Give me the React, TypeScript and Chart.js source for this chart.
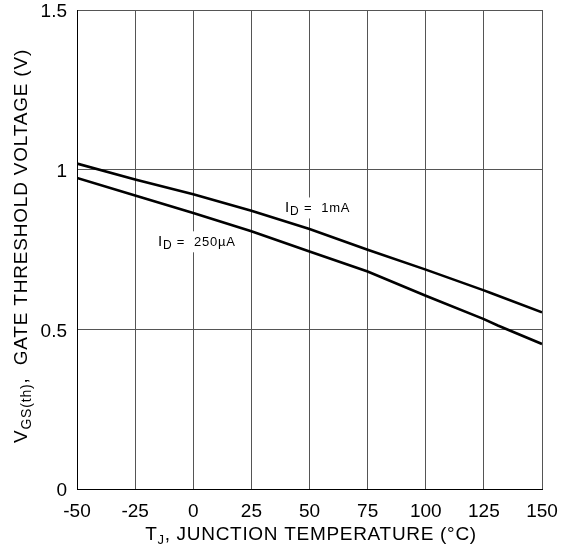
import React, { useEffect, useRef } from "react";
import { Chart, registerables } from "chart.js";

Chart.register(...registerables);

const tempsHigh = [-50, -25, 0, 25, 50, 75, 100, 125, 128, 150];
const vth1mA = [1.019, 0.969, 0.923, 0.871, 0.814, 0.749, 0.687, 0.622, 0.614, 0.553];
const tempsLow = [-50, -25, 0, 25, 50, 75, 100, 125, 131, 150];
const vth250uA = [0.974, 0.919, 0.864, 0.807, 0.744, 0.681, 0.605, 0.532, 0.512, 0.454];

const FONT = "'Liberation Sans', Arial, sans-serif";

type Seg = { t: string; size: number; dy?: number };

const xTitle: Seg[] = [
  { t: "T", size: 19 },
  { t: "J", size: 13, dy: 4 },
  { t: ", JUNCTION TEMPERATURE (°C)", size: 19 },
];
const yTitle: Seg[] = [
  { t: "V", size: 19 },
  { t: "GS(th)", size: 14, dy: 4 },
  { t: ",  GATE THRESHOLD VOLTAGE (V)", size: 19 },
];
const label1mA: Seg[] = [
  { t: "I", size: 15 },
  { t: "D", size: 12, dy: 3 },
  { t: " =  1mA", size: 13 },
];
const label250uA: Seg[] = [
  { t: "I", size: 15 },
  { t: "D", size: 12, dy: 3 },
  { t: " =  250µA", size: 13 },
];
// annotation anchors in data units [temperature, volts]
const anchor1mA = [39.5, 0.866];
const anchor250uA = [-15.2, 0.76];

function segWidth(ctx: CanvasRenderingContext2D, segs: Seg[]) {
  let w = 0;
  for (const s of segs) {
    ctx.font = `${s.size}px ${FONT}`;
    w += ctx.measureText(s.t).width;
  }
  return w;
}
function drawSegs(ctx: CanvasRenderingContext2D, segs: Seg[], x: number, y: number) {
  let cx = x;
  for (const s of segs) {
    ctx.font = `${s.size}px ${FONT}`;
    ctx.fillText(s.t, cx, y + (s.dy || 0));
    cx += ctx.measureText(s.t).width;
  }
}

const textPlugin = {
  id: "textPlugin",
  beforeDatasetsDraw(chart: any) {
    const ctx = chart.ctx as CanvasRenderingContext2D;
    const xs = chart.scales.x;
    const ys = chart.scales.y;
    ctx.save();
    (ctx as any).letterSpacing = "0.8px";
    ctx.textBaseline = "alphabetic";
    ctx.textAlign = "left";
    for (const [segs, a] of [
      [label1mA, anchor1mA],
      [label250uA, anchor250uA],
    ] as [Seg[], number[]][]) {
      const px = xs.getPixelForValue(a[0]);
      const py = ys.getPixelForValue(a[1]);
      const w = segWidth(ctx, segs);
      ctx.fillStyle = "#ffffff";
      ctx.fillRect(px - 2, py - 15, w + 4, 21);
      ctx.fillStyle = "#000000";
      drawSegs(ctx, segs, px, py);
    }
    ctx.restore();
  },
  afterDraw(chart: any) {
    const ctx = chart.ctx as CanvasRenderingContext2D;
    ctx.save();
    ctx.fillStyle = "#000000";
    ctx.textBaseline = "alphabetic";
    ctx.textAlign = "left";
    (ctx as any).letterSpacing = "0.7px";
    const wx = segWidth(ctx, xTitle);
    drawSegs(ctx, xTitle, 311 - wx / 2, 540);
    (ctx as any).letterSpacing = "0.8px";
    const wy = segWidth(ctx, yTitle);
    ctx.translate(27, 246);
    ctx.rotate(-Math.PI / 2);
    drawSegs(ctx, yTitle, -wy / 2, 0);
    ctx.restore();
  },
};

export default function App() {
  const ref = useRef<HTMLCanvasElement>(null);
  useEffect(() => {
    document.body.style.margin = "0";
    const chart = new Chart(ref.current!, {
      type: "line",
      data: {
        datasets: [
          {
            label: "ID = 1mA",
            data: tempsHigh.map((t, i) => ({ x: t, y: vth1mA[i] })),
            borderColor: "#000",
            borderWidth: 2.6,
            pointRadius: 0,
            tension: 0,
          },
          {
            label: "ID = 250µA",
            data: tempsLow.map((t, i) => ({ x: t, y: vth250uA[i] })),
            borderColor: "#000",
            borderWidth: 2.6,
            pointRadius: 0,
            tension: 0,
          },
        ],
      },
      options: {
        animation: false,
        responsive: true,
        maintainAspectRatio: false,
        layout: { padding: { left: 0, top: 10, right: 22, bottom: 0 } },
        plugins: { legend: { display: false }, tooltip: { enabled: false } },
        scales: {
          x: {
            type: "linear",
            min: -50,
            max: 150,
            afterFit: (s: any) => {
              s.height = 61;
              s.paddingLeft = 0;
              s.paddingRight = 0;
            },
            ticks: {
              stepSize: 25,
              color: "#000",
              padding: 11,
              maxRotation: 0,
              font: { family: FONT, size: 19 },
            },
            grid: { color: "#555", lineWidth: 1, drawTicks: false },
            border: { color: "#000", width: 1 },
          },
          y: {
            min: 0,
            max: 1.5,
            afterFit: (s: any) => {
              s.width = 77;
              s.paddingTop = 0;
              s.paddingBottom = 0;
            },
            ticks: {
              stepSize: 0.5,
              color: "#000",
              padding: 10,
              labelOffset: 2,
              font: { family: FONT, size: 19 },
              callback: (v: any) => String(Number(v)),
            },
            grid: { color: "#555", lineWidth: 1, drawTicks: false },
            border: { color: "#000", width: 1 },
          },
        },
      },
      plugins: [textPlugin],
    });
    return () => chart.destroy();
  }, []);
  return (
    <div style={{ width: 564, height: 550, position: "relative" }}>
      <canvas ref={ref} />
    </div>
  );
}
